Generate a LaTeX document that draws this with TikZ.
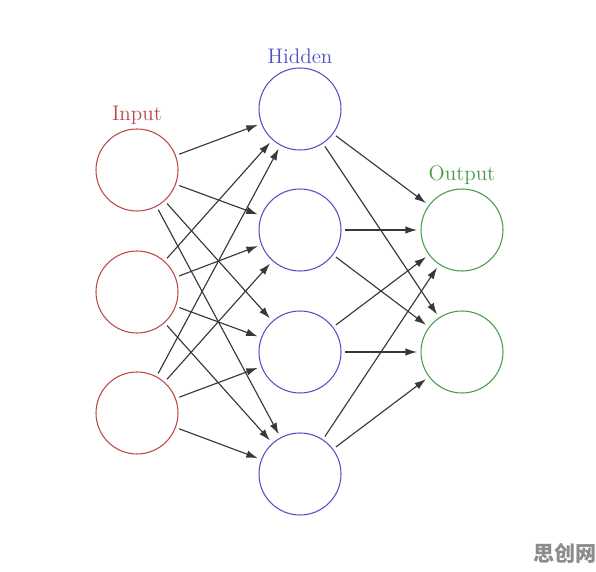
\documentclass[tikz,border=0pt]{standalone}
\usepackage{fontspec}
\newfontfamily\cjk{Noto Sans CJK SC}
\usepackage{tikz}
\usetikzlibrary{arrows.meta,positioning}
\definecolor{inred}{RGB}{190,70,70}
\definecolor{hidblue}{RGB}{80,80,195}
\definecolor{outgreen}{RGB}{70,155,70}
\tikzset{
	neuron/.style={circle, minimum size=1.64cm, inner sep=0pt, line width=0.6pt},
	layerlabel/.style={font=\large},
	link/.style={-{Latex[length=2.3mm,width=1.5mm]}, line width=0.65pt, color=black!78, shorten <=2pt, shorten >=2pt}
}

\begin{document}
\begin{tikzpicture}
			%%%%% START %%%%%
			
			\useasboundingbox (0, 0) rectangle (11.92, -11.44);
			
			\node[neuron, draw=inred] (in1) at (2.74, -3.40) {};
			\node[neuron, draw=inred] (in2) at (2.74, -5.84) {};
			\node[neuron, draw=inred] (in3) at (2.74, -8.26) {};
			
			\node[neuron, draw=hidblue] (hid1) at (6.00, -2.18) {};
			\node[neuron, draw=hidblue] (hid2) at (6.00, -4.60) {};
			\node[neuron, draw=hidblue] (hid3) at (6.00, -7.04) {};
			\node[neuron, draw=hidblue] (hid4) at (6.00, -9.48) {};
			
			\node[neuron, draw=outgreen] (out1) at (9.24, -4.60) {};
			\node[neuron, draw=outgreen] (out2) at (9.24, -7.04) {};
			
			\node[layerlabel, text=inred, above=-0.05cm of in1] (inlabel) {Input};
			\node[layerlabel, text=hidblue, above=-0.05cm of hid1] (hidlabel) {Hidden};
			\node[layerlabel, text=outgreen, above=-0.05cm of out1] (outlabel) {Output};
			
			\draw[link] (in1) -- (hid1);
			\draw[link] (in1) -- (hid2);
			\draw[link] (in1) -- (hid3);
			\draw[link] (in1) -- (hid4);
			
			\draw[link] (in2) -- (hid1);
			\draw[link] (in2) -- (hid2);
			\draw[link] (in2) -- (hid3);
			\draw[link] (in2) -- (hid4);
			
			\draw[link] (in3) -- (hid1);
			\draw[link] (in3) -- (hid2);
			\draw[link] (in3) -- (hid3);
			\draw[link] (in3) -- (hid4);
			
			\draw[link] (hid1) -- (out1);
			\draw[link] (hid1) -- (out2);
			\draw[link] (hid2) -- (out1);
			\draw[link] (hid2) -- (out2);
			\draw[link] (hid3) -- (out1);
			\draw[link] (hid3) -- (out2);
			\draw[link] (hid4) -- (out1);
			\draw[link] (hid4) -- (out2);
			
			\node[text=black!45, font=\cjk\bfseries\large] (mark) at (11.30, -11.06) {思创网};
			
			%%%%% END %%%%%
		\end{tikzpicture}
\end{document}
